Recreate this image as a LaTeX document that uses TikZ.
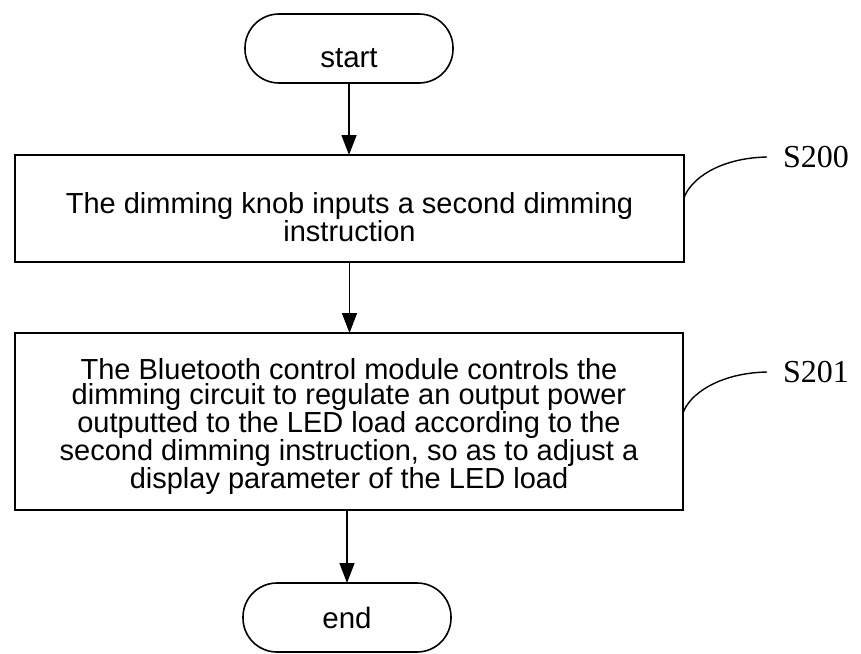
\documentclass[tikz,border=0pt]{standalone}
\usepackage{fontspec}
\setmainfont{Liberation Sans}
\newfontfamily\serifS{Liberation Serif}
\usetikzlibrary{arrows.meta,calc}
\begin{document}
\begin{tikzpicture}[x=1pt,y=-1pt,
  every node/.style={inner sep=0pt, outer sep=0pt},
  term/.style={draw, line width=1.6pt, rounded corners=34pt, minimum width=208pt, minimum height=69pt, font=\fontsize{29.5}{25.5}\selectfont},
  stepbox/.style={draw, line width=1.6pt, align=center, font=\fontsize{29}{25.5}\selectfont},
  arr/.style={line width=1.4pt, -{Triangle[length=20pt,width=15pt]}},
  slabel/.style={font=\serifS\fontsize{32}{32}\selectfont, anchor=west, outer xsep=16pt},
  leader/.style={line width=1.4pt}]
\useasboundingbox (0,0) rectangle (861,653);
\node[term, text height=37pt, text depth=0pt] (start) at (349,48.5) {start};
\node[stepbox, minimum width=669pt, minimum height=107pt] (b1) at (349.5,208.5)
  {\rule{0pt}{39pt}The dimming knob inputs a second dimming\\instruction};
\node[stepbox, minimum width=668pt, minimum height=177pt] (b2) at (349,421.5)
  {\rule{0pt}{31pt}The Bluetooth control module controls the\\dimming circuit to regulate an output power\\outputted to the LED load according to the\\second dimming instruction, so as to adjust a\\display parameter of the LED load};
\node[term, text height=21pt, text depth=0pt] (end) at (347,617.5) {end};
\node[slabel] (s200) at (767,157) {S200};
\node[slabel] (s201) at (767,372) {S201};
\draw[arr] (start.south) -- (start.south |- b1.north);
\draw[arr] (b1.south) -- (b1.south |- b2.north);
\draw[arr] (end.north |- b2.south) -- (end.north);
\draw[leader] ($(b1.east)+(0,-10.5)$) .. controls +(6,-18) and +(-49,1) .. (s200.west);
\draw[leader] ($(b2.east)+(0,-8.5)$) .. controls +(6,-18) and +(-49,1) .. (s201.west);
\end{tikzpicture}
\end{document}
